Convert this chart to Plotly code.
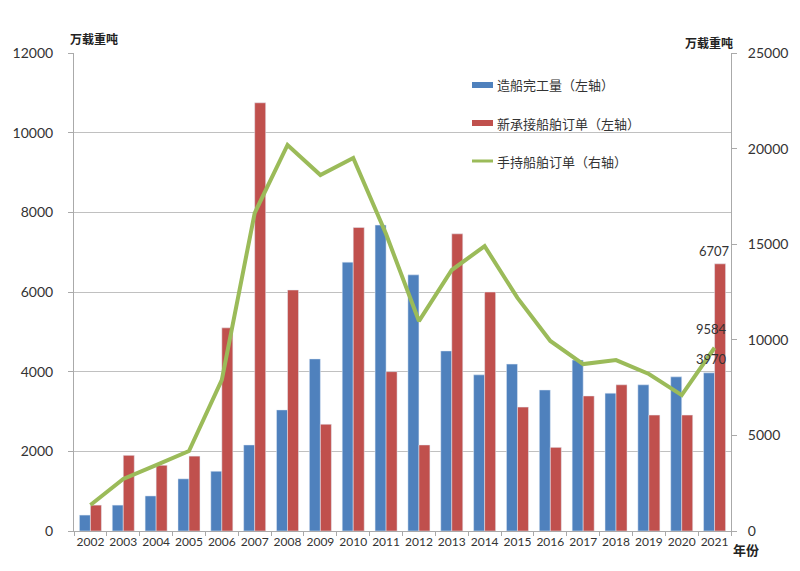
import plotly.graph_objects as go

years = [str(y) for y in range(2002, 2022)]
completions = [400, 650, 880, 1310, 1500, 2160, 3040, 4320, 6750, 7680,
               6430, 4520, 3920, 4190, 3540, 4290, 3460, 3670, 3870, 3970]
new_orders = [650, 1900, 1650, 1880, 5100, 10750, 6050, 2680, 7620, 4000,
              2160, 7460, 6000, 3110, 2100, 3390, 3670, 2910, 2910, 6707]
backlog = [1360, 2720, 3450, 4180, 7900, 16630, 20190, 18620, 19510, 15530,
           10980, 13650, 14900, 12190, 9940, 8730, 8940, 8210, 7110, 9584]

names = ["造船完工量（左轴）", "新承接船舶订单（左轴）", "手持船舶订单（右轴）"]
BLUE, RED, GREEN = "#4F81BD", "#C0504D", "#9BBB59"
CJK = "Noto Sans CJK SC"
NUM = "Lato"

fig = go.Figure()
fig.add_trace(go.Bar(x=years, y=completions, name=names[0], marker_color=BLUE))
fig.add_trace(go.Bar(x=years, y=new_orders, name=names[1], marker_color=RED))
fig.add_trace(go.Scatter(x=years, y=backlog, name=names[2], yaxis="y2",
                         mode="lines", line=dict(color=GREEN, width=4)))

fig.update_layout(
    width=800, height=571,
    margin=dict(l=66, r=77, t=45, b=48, autoexpand=False),
    plot_bgcolor="white", paper_bgcolor="white",
    font=dict(family=NUM, size=12, color="#333"),
    showlegend=False,
    barmode="group", bargap=0.33, bargroupgap=0,
    xaxis=dict(type="category", range=[-0.5, len(years) - 0.5], showgrid=False,
               automargin=False,
               showline=True, linecolor="#aaa", linewidth=1, ticks="outside",
               ticklen=4, tickcolor="#aaa", tickangle=0,
               tickson="boundaries", tickfont=dict(size=12, family=NUM)),
    yaxis=dict(range=[0, 12000], dtick=2000, tickformat="d", showgrid=True,
               automargin=False,
               gridcolor="#c0c0c0", gridwidth=1, showline=True, linecolor="#aaa",
               zeroline=False, ticks="outside", ticklen=5, tickcolor="#aaa",
               ticklabelstandoff=12, tickfont=dict(size=14, family=NUM)),
    yaxis2=dict(range=[0, 25000], dtick=5000, tickformat="d", overlaying="y",
                automargin=False,
                side="right", showgrid=False, showline=True, linecolor="#aaa",
                zeroline=False, ticks="outside", ticklen=5, tickcolor="#aaa",
                ticklabelstandoff=8, tickfont=dict(size=14, family=NUM)),
)

# data labels for the latest year (category index of last year)
last = len(years) - 1
lab = dict(showarrow=False, font=dict(size=13, family=NUM, color="#333"),
           yanchor="bottom")
fig.add_annotation(x=last, y=completions[-1], xref="x", yref="y",
                   text=str(completions[-1]), xshift=-3, yshift=4, **lab)
fig.add_annotation(x=last, y=new_orders[-1], xref="x", yref="y",
                   text=str(new_orders[-1]), xshift=0, yshift=3, **lab)
fig.add_annotation(x=last, y=backlog[-1], xref="x", yref="y2",
                   text=str(backlog[-1]), xshift=-3, yshift=9, **lab)

# axis unit labels
fig.add_annotation(x=0, y=1, xref="paper", yref="paper", text="<b>万载重吨</b>",
                   showarrow=False, xanchor="left", yanchor="bottom", xshift=-6, yshift=4,
                   font=dict(size=12, family=CJK, color="#222"))
fig.add_annotation(x=1, y=1, xref="paper", yref="paper", text="<b>万载重吨</b>",
                   showarrow=False, xanchor="right", yanchor="bottom", xshift=4, yshift=0,
                   font=dict(size=12, family=CJK, color="#222"))
fig.add_annotation(x=1, y=0, xref="paper", yref="paper", text="<b>年份</b>",
                   showarrow=False, xanchor="left", yanchor="top", xshift=0, yshift=-7,
                   font=dict(size=13, family=CJK, color="#222"))

# manual legend
colors = [BLUE, RED, GREEN]
for i, (nm, c) in enumerate(zip(names, colors)):
    ypix = 77 + i * 38
    yp = 1 - (ypix - 45) / 478
    h = 3 if i < 2 else 1.5
    fig.add_shape(type="rect", xref="paper", yref="paper",
                  x0=(464 - 66) / 657, x1=(485 - 66) / 657,
                  y0=yp - h / 478, y1=yp + h / 478,
                  fillcolor=c, line=dict(width=0))
    fig.add_annotation(x=(487 - 66) / 657, y=yp, xref="paper", yref="paper",
                       text=nm, showarrow=False, xanchor="left", yanchor="middle",
                       font=dict(size=13, family=CJK, color="#333"))

fig.write_html("out.html")
